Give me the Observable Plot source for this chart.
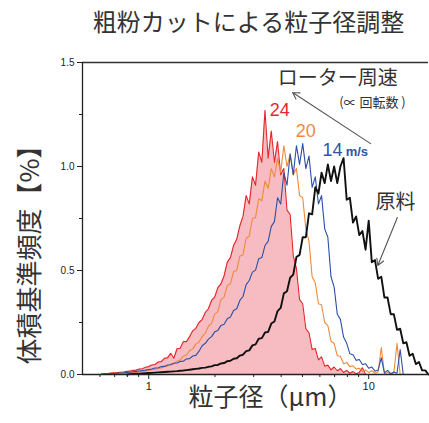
<!DOCTYPE html>
<html><head><meta charset="utf-8">
<script src="https://cdn.jsdelivr.net/npm/d3@7"></script>
<script src="https://cdn.jsdelivr.net/npm/@observablehq/plot@0.6"></script>
<style>
body{margin:0;background:#fff;}
#title{height:40px;line-height:42px;font-family:"Noto Sans CJK JP";font-size:24px;color:#333;text-align:center;padding-left:68px;width:361px;white-space:nowrap}
</style></head><body>
<div id="title">粗粉カットによる粒子径調整</div>
<div id="chart"></div>
<script>
// particle size bins (μm)
const sizes = [0.5908,0.6105,0.6310,0.6521,0.6739,0.6964,0.7197,0.7438,0.7686,0.7943,0.8209,0.8483,0.8767,0.9060,0.9363,0.9676,
1.000,1.033,1.068,1.104,1.141,1.179,1.218,1.259,1.301,1.345,
1.390,1.436,1.484,1.534,1.585,1.638,1.693,1.749,1.808,1.868,
1.931,1.995,2.062,2.131,2.202,2.276,2.352,2.431,2.512,2.596,
2.683,2.773,2.865,2.961,3.060,3.162,3.268,3.377,3.490,3.607,
3.728,3.852,3.981,4.114,4.252,4.394,4.541,4.693,4.850,5.012,
5.180,5.353,5.532,5.717,5.908,6.105,6.310,6.521,6.739,6.964,
7.197,7.438,7.686,7.943,8.209,8.483,8.767,9.060,9.363,9.676,
10.00,10.33,10.68,11.04,11.41,11.79,12.18,12.59,13.01,13.45,
13.90,14.36,14.84,15.34,15.85,16.38,16.93,17.49,18.08,18.68];

const N = null;
// rotor speed 24 m/s
const v24 = [N,.003,.005,.005,.007,.008,.009,.011,.012,.015,.016,.020,.021,.026,.028,.035,
.038,.046,.048,.060,.062,.078,.080,.102,.078,.124,
.126,.158,.158,.182,.210,.222,.250,.264,.298,.316,
.356,.372,.418,.436,.475,.540,.562,.620,.650,.715,
.760,.860,.820,.950,.910,1.070,1.020,1.270,1.040,1.170,
1.020,1.120,.960,.990,.790,.770,.570,.510,.360,.340,
.220,.200,.120,.125,.070,.085,.040,.045,.022,.036,
.018,.028,.010,.020,.006,.014,.004,.010,.032,0,
N,N,N,N,N,N,N,N,N,N,
N,N,N,N,N,N,N,N,N,N];
// 20 m/s
const v20 = [N,N,N,N,.003,.004,.005,.006,.007,.008,.009,.010,.012,.013,.015,.017,
.020,.022,.025,.028,.032,.037,.041,.049,.054,.064,
.070,.088,.094,.115,.122,.146,.156,.182,.198,.232,
.246,.290,.302,.360,.372,.428,.436,.495,.500,.570,
.575,.655,.665,.750,.755,.845,.835,.930,.895,.990,
.950,1.040,.970,1.100,1.000,1.060,.960,.990,.860,.850,
.700,.640,.470,.440,.340,.335,.250,.235,.160,.150,
.090,.088,.052,.058,.038,.042,.026,.030,.015,.022,
.010,.018,.006,.012,.130,.004,.010,.002,.008,.150,
0,N,N,N,N,N,N,N,N,N];
// 14 m/s
const v14 = [N,N,.002,.003,.004,.005,.006,.007,.008,.010,.011,.013,.015,.017,.019,.021,
.024,.026,.031,.032,.038,.039,.046,.047,.054,.055,
.063,.064,.075,.076,.089,.092,.112,.138,.150,.170,
.182,.205,.212,.236,.242,.268,.276,.308,.316,.356,
.375,.432,.452,.492,.502,.556,.562,.620,.640,.712,
.735,.850,.820,.970,.910,1.060,.960,1.100,1.010,1.110,
.990,1.050,.900,.950,.820,.860,.700,.660,.470,.420,
.290,.265,.180,.150,.100,.095,.068,.072,.048,.052,
.030,.036,.016,.022,.080,.008,.020,.004,.012,.006,
.120,0,N,N,N,N,N,N,N,N];
// raw powder 原料
const vRaw = [N,N,N,N,N,N,N,N,N,0,.002,.003,.004,.004,.005,.006,
.007,.008,.009,.010,.011,.012,.013,.014,.015,.016,
.018,.019,.021,.023,.025,.027,.029,.032,.033,.037,
.039,.045,.046,.053,.055,.064,.066,.076,.078,.091,
.095,.112,.116,.140,.145,.172,.175,.202,.205,.245,
.255,.305,.320,.390,.400,.465,.480,.565,.575,.660,
.660,.775,.770,.900,.870,.970,.920,1.010,.930,1.000,
.920,1.000,1.040,.840,.850,.730,.760,.670,.690,.600,
.740,.540,.550,.460,.470,.370,.370,.290,.290,.215,
.220,.150,.155,.090,.100,.050,.060,.020,.020,0];

const yTicks = [0, 0.5, 1.0, 1.5];
const yMinor = [0.25, 0.75, 1.25];
const xTicks = [1, 10];
const xMinor = [0.6,0.7,0.8,0.9,2,3,4,5,6,7,8,9];

const series = [
  {key:"24", values:v24, color:"#e4262c", w:1.1},
  {key:"20", values:v20, color:"#ee8a3e", w:1.1},
  {key:"14", values:v14, color:"#2b50a5", w:1.1},
  {key:"raw", values:vRaw, color:"#111111", w:1.9}
];
const rows = s => sizes.map((x,i)=>({x, y:s.values[i]})).filter(d=>d.y!=null);

const labels = [
  {x:7.24, y:1.423, text:"ローター周速", size:20, color:"#333", anchor:"middle", weight:"normal", font:"Noto Sans CJK JP"},
  {x:10.4, y:1.308, text:"(∝ 回転数 )", size:13, color:"#333", anchor:"middle", weight:"normal", font:"Noto Sans CJK JP"},
  {x:3.94, y:1.27, text:"24", size:18, color:"#e8262c", anchor:"middle", weight:"normal", font:"Liberation Sans"},
  {x:5.17, y:1.168, text:"20", size:18, color:"#ef8a43", anchor:"middle", weight:"normal", font:"Liberation Sans"},
  {x:6.17, y:1.077, text:"14", size:18, color:"#2f55a8", anchor:"start", weight:"normal", font:"Liberation Sans"},
  {x:7.86, y:1.072, text:"m/s", size:13, color:"#2f55a8", anchor:"start", weight:"bold", font:"Liberation Sans"},
  {x:13.25, y:0.827, text:"原料", size:20, color:"#333", anchor:"middle", weight:"normal", font:"Noto Sans CJK JP"}
];
const arrows = [
  {x1:10.2, y1:1.11, x2:4.51, y2:1.356},
  {x1:13.5, y1:0.755, x2:11.0, y2:0.524}
];

const marks = [
  Plot.areaY(rows(series[0]), {x:"x", y:"y", fill:"#f6bcc1"}),
  ...series.map(s => Plot.line(rows(s), {x:"x", y:"y", stroke:s.color, strokeWidth:s.w})),
  Plot.ruleY([0], {stroke:"#222", strokeWidth:1.5}),
  Plot.ruleY([1.5], {stroke:"#333", strokeWidth:1.3}),
  Plot.ruleX([0.5], {stroke:"#222", strokeWidth:1.3}),
  Plot.axisY({ticks:yTicks, tickFormat:d3.format(".1f"), tickSize:5, tickPadding:3, label:null, fontSize:10}),
  Plot.axisY({ticks:yMinor, tickSize:3, tickFormat:()=>"", label:null}),
  Plot.axisX({ticks:xTicks, tickFormat:d=>String(d), tickSize:5, tickPadding:3, label:null, fontSize:11}),
  Plot.axisX({ticks:xMinor, tickSize:3, tickFormat:()=>"", label:null}),
  Plot.arrow(arrows, {x1:"x1", y1:"y1", x2:"x2", y2:"y2", stroke:"#555", strokeWidth:1.1, headLength:10}),
  ...labels.map(l => Plot.text([l], {x:"x", y:"y", text:"text", fontSize:l.size, fill:l.color, textAnchor:l.anchor, fontWeight:l.weight, fontFamily:l.font})),
  Plot.text(["体積基準頻度【%】"], {frameAnchor:"left", textAnchor:"middle", rotate:-90, dx:-52, dy:30, fontSize:26, fill:"#333", fontFamily:"Noto Sans CJK JP"}),
  Plot.text(["粒子径（μm）"], {frameAnchor:"bottom", dx:15, dy:31, fontSize:25, fill:"#333", fontFamily:"Noto Sans CJK JP"})
];

const chart = Plot.plot({
  width:429, height:383,
  marginLeft:82, marginRight:1, marginTop:22, marginBottom:49,
  x:{type:"log", domain:[0.5, 18.7]},
  y:{domain:[0, 1.5]},
  style:{fontFamily:"Liberation Sans, Arial, sans-serif", color:"#222", background:"#fff", overflow:"visible"},
  marks
});
document.getElementById("chart").appendChild(chart);
</script>
</body></html>
